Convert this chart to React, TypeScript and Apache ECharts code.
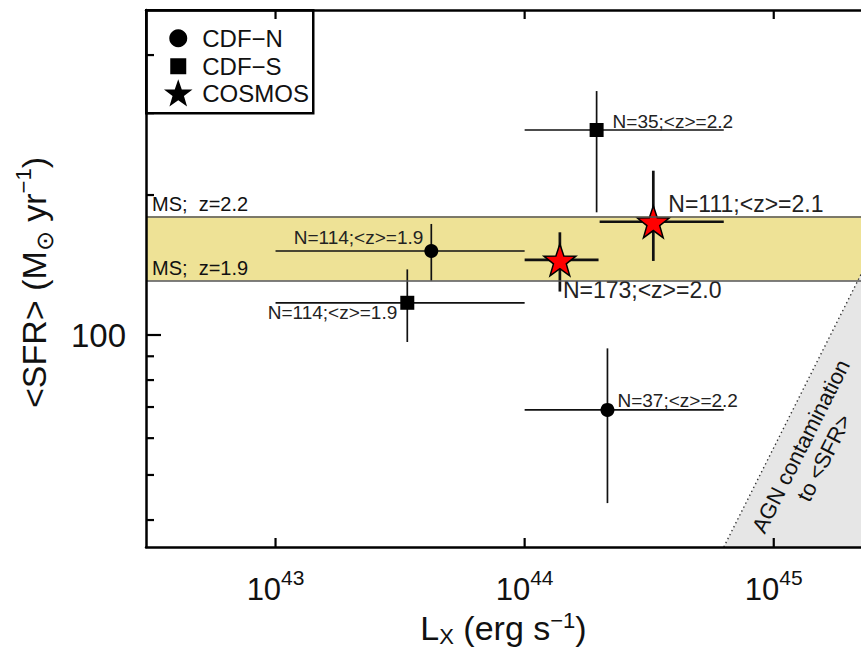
import { useEffect, useRef } from 'react';
import * as echarts from 'echarts';

// Axis ranges (log-log)
const X_MIN = 3.02e42;
const X_MAX = 2.24e45;
const Y_MIN = 35;
const Y_MAX = 500;

const X_MAJOR_TICKS = [1e43, 1e44, 1e45];
const Y_MAJOR_TICKS = [100];
const Y_MINOR_TICKS = [40, 50, 60, 70, 80, 90, 200, 300, 400];

// Main-sequence band limits
const MS_Z19 = 131;
const MS_Z22 = 180;
const MS_Z19_LABEL = 'MS;  z=1.9';
const MS_Z22_LABEL = 'MS;  z=2.2';

// CDF-N stacks
const CDFN_LX = [4.22e43, 2.15e44];
const CDFN_SFR = [151.6, 69.0];
const CDFN_LX_LO = [1e43, 1e44];
const CDFN_LX_HI = [1e44, 6.3e44];
const CDFN_SFR_LO = [130.8, 43.5];
const CDFN_SFR_HI = [173.3, 93.6];
const CDFN_LABELS = ['N=114;<z>=1.9', 'N=37;<z>=2.2'];

// CDF-S stacks
const CDFS_LX = [3.38e43, 1.945e44];
const CDFS_SFR = [117.3, 276];
const CDFS_LX_LO = [1e43, 1e44];
const CDFS_LX_HI = [1e44, 6.3e44];
const CDFS_SFR_LO = [96.6, 183.6];
const CDFS_SFR_HI = [138.4, 334.7];
const CDFS_LABELS = ['N=114;<z>=1.9', 'N=35;<z>=2.2'];

// COSMOS stacks
const COSMOS_LX = [1.385e44, 3.285e44];
const COSMOS_SFR = [145, 175.2];
const COSMOS_LX_LO = [1e44, 2.0e44];
const COSMOS_LX_HI = [1.98e44, 6.3e44];
const COSMOS_SFR_LO = [124, 144.3];
const COSMOS_SFR_HI = [166.3, 225.6];
const COSMOS_LABELS = ['N=173;<z>=2.0', 'N=111;<z>=2.1'];

// Edge of the AGN-contaminated region
const AGN_EDGE = [
  [6.3e44, 35],
  [2.24e45, 135],
];
const AGN_TEXT_AT = [1.43e45, 56];
const AGN_TEXT = 'AGN contamination\nto <SFR>';

// Label placement relative to each marker: [dx, dy, align]
const CDFN_LABEL_POS: [number, number, string][] = [[-8, -13, 'right'], [10, -9, 'left']];
const CDFS_LABEL_POS: [number, number, string][] = [[-10, 10, 'right'], [16, -8, 'left']];
const COSMOS_LABEL_POS: [number, number, string][] = [[3, 30, 'left'], [15, -18, 'left']];

const FONT = '"Liberation Sans", Arial, Helvetica, sans-serif';
const INK = '#111';
const BAND_COLOR = '#eee296';
const AGN_COLOR = '#e6e6e6';

function starPoints(cx: number, cy: number, R: number, r: number): number[][] {
  const pts: number[][] = [];
  for (let k = 0; k < 10; k++) {
    const a = -Math.PI / 2 + (k * Math.PI) / 5;
    const rad = k % 2 === 0 ? R : r;
    pts.push([cx + rad * Math.cos(a), cy + rad * Math.sin(a)]);
  }
  return pts;
}

const STAR_PATH =
  'path://' +
  starPoints(50, 50, 50, 20)
    .map((p, i) => `${i ? 'L' : 'M'}${p[0].toFixed(2)} ${p[1].toFixed(2)}`)
    .join(' ') +
  ' Z';

function rows(lx: number[], sfr: number[], xlo: number[], xhi: number[], ylo: number[], yhi: number[]) {
  return lx.map((x, i) => [x, sfr[i], xlo[i], xhi[i], ylo[i], yhi[i]]);
}

function errorBars(name: string, data: number[][], width: number) {
  return {
    type: 'custom',
    name,
    z: 3,
    silent: true,
    data,
    encode: { x: 0, y: 1 },
    renderItem: (_p: any, api: any) => {
      const x = api.value(0);
      const y = api.value(1);
      const l = api.coord([api.value(2), y]);
      const r = api.coord([api.value(3), y]);
      const b = api.coord([x, api.value(4)]);
      const t = api.coord([x, api.value(5)]);
      const style = { stroke: INK, lineWidth: width };
      return {
        type: 'group',
        children: [
          { type: 'line', shape: { x1: l[0], y1: l[1], x2: r[0], y2: r[1] }, style },
          { type: 'line', shape: { x1: b[0], y1: b[1], x2: t[0], y2: t[1] }, style },
        ],
      };
    },
  };
}

function points(lx: number[], sfr: number[], labels: string[], pos: [number, number, string][], fontSize: number) {
  return lx.map((x, i) => ({
    name: labels[i],
    value: [x, sfr[i]],
    label: {
      show: true,
      position: 'inside',
      formatter: '{b}',
      offset: [pos[i][0], pos[i][1]],
      align: pos[i][2],
      verticalAlign: 'middle',
      color: '#222',
      fontSize,
      fontFamily: FONT,
    },
  }));
}

function tickLine(x1: number, y1: number, x2: number, y2: number) {
  return { type: 'line', shape: { x1, y1, x2, y2 }, style: { stroke: '#000', lineWidth: 2.2 } };
}

function expLabel(v: number) {
  const e = Math.log10(v);
  if (Math.abs(e - Math.round(e)) > 1e-6) return '';
  return `{b|10}{s|${Math.round(e)}}`;
}

const option: any = {
  animation: false,
  backgroundColor: '#fff',
  textStyle: { fontFamily: FONT, color: INK },
  grid: { left: 146, right: 0, top: 10, bottom: 104, containLabel: false, outerBoundsMode: 'none' },
  xAxis: [
    {
      type: 'log',
      logBase: 10,
      min: X_MIN,
      max: X_MAX,
      position: 'bottom',
      z: 10,
      axisLine: { show: true, onZero: false, lineStyle: { color: '#000', width: 2.5 } },
      axisTick: { show: false },
      splitLine: { show: false },
      minorTick: { show: false },
      axisLabel: {
        margin: 20,
        formatter: expLabel,
        showMinLabel: false,
        showMaxLabel: false,
        rich: {
          b: { fontSize: 31, lineHeight: 44, fontFamily: FONT, color: INK },
          s: { fontSize: 21, lineHeight: 20, verticalAlign: 'top', fontFamily: FONT, color: INK },
        },
      },
      name: '{a|L}{sub|X}{a| (erg s}{sup|−1}{a|)}',
      nameLocation: 'middle',
      nameGap: 54,
      nameTextStyle: {
        rich: {
          a: { fontSize: 34, lineHeight: 38, fontFamily: FONT, color: INK },
          sub: { fontSize: 22, lineHeight: 16, verticalAlign: 'bottom', fontFamily: FONT, color: INK },
          sup: { fontSize: 22, lineHeight: 14, verticalAlign: 'top', fontFamily: FONT, color: INK },
        },
      },
    },
    {
      type: 'log',
      logBase: 10,
      min: X_MIN,
      max: X_MAX,
      position: 'top',
      z: 10,
      axisLine: { show: true, onZero: false, lineStyle: { color: '#000', width: 2.5 } },
      axisTick: { show: false },
      axisLabel: { show: false },
      splitLine: { show: false },
    },
  ],
  yAxis: {
    type: 'log',
    logBase: 10,
    min: Y_MIN,
    max: Y_MAX,
    z: 10,
    axisLine: { show: true, onZero: false, lineStyle: { color: '#000', width: 2.5 } },
    axisTick: { show: false },
    splitLine: { show: false },
    minorTick: { show: false },
    axisLabel: {
      margin: 20,
      fontSize: 33,
      color: INK,
      showMinLabel: false,
      showMaxLabel: false,
      formatter: (v: number) => {
        const e = Math.log10(v);
        return Math.abs(e - Math.round(e)) < 1e-6 ? String(Math.round(v)) : '';
      },
    },
    name: '{a|<SFR> (M}{sub|⊙}{a| yr}{sup|−1}{a|)}',
    nameLocation: 'middle',
    nameGap: 90,
    nameTextStyle: {
      padding: [0, 8, 0, 0],
      rich: {
        a: { fontSize: 34, lineHeight: 44, fontFamily: FONT, color: INK },
        sub: { fontSize: 24, lineHeight: 22, verticalAlign: 'bottom', fontFamily: FONT, color: INK },
        sup: { fontSize: 22, lineHeight: 28, verticalAlign: 'top', fontFamily: FONT, color: INK },
      },
    },
  },
  series: [
    // AGN-contaminated corner
    {
      type: 'custom',
      name: 'AGN',
      z: 1,
      silent: true,
      data: [AGN_EDGE[0]],
      renderItem: (_p: any, api: any) => {
        const a = api.coord(AGN_EDGE[0]);
        const b = api.coord(AGN_EDGE[1]);
        const c = api.coord([X_MAX, AGN_EDGE[1][1]]);
        const d = api.coord([X_MAX, Y_MIN]);
        const t = api.coord(AGN_TEXT_AT);
        const ang = Math.atan2(a[1] - b[1], b[0] - a[0]);
        return {
          type: 'group',
          children: [
            { type: 'polygon', shape: { points: [a, b, c, d] }, style: { fill: AGN_COLOR } },
            {
              type: 'line',
              shape: { x1: a[0], y1: a[1], x2: b[0], y2: b[1] },
              style: { stroke: '#333', lineWidth: 1.4, lineDash: [1.4, 3] },
            },
            {
              type: 'text',
              x: t[0],
              y: t[1],
              rotation: ang,
              style: {
                text: AGN_TEXT,
                fontSize: 22,
                lineHeight: 26,
                fontFamily: FONT,
                fill: INK,
                align: 'center',
                verticalAlign: 'middle',
              },
            },
          ],
        };
      },
    },
    // Main-sequence band
    {
      type: 'line',
      name: 'MS',
      z: 2,
      silent: true,
      data: [],
      markArea: {
        silent: true,
        itemStyle: { color: BAND_COLOR, opacity: 1, borderWidth: 0 },
        data: [[{ yAxis: MS_Z19 }, { yAxis: MS_Z22 }]],
      },
      markLine: {
        silent: true,
        symbol: ['none', 'none'],
        lineStyle: { color: '#555', width: 1.5, type: 'solid' },
        label: {
          show: true,
          position: 'insideStartTop',
          formatter: '{b}',
          distance: [6, 2],
          color: INK,
          fontSize: 20,
          fontFamily: FONT,
        },
        emphasis: { disabled: true },
        data: [
          { yAxis: MS_Z22, name: MS_Z22_LABEL },
          { yAxis: MS_Z19, name: MS_Z19_LABEL },
        ],
      },
    },
    errorBars('CDF−N err', rows(CDFN_LX, CDFN_SFR, CDFN_LX_LO, CDFN_LX_HI, CDFN_SFR_LO, CDFN_SFR_HI), 1.7),
    errorBars('CDF−S err', rows(CDFS_LX, CDFS_SFR, CDFS_LX_LO, CDFS_LX_HI, CDFS_SFR_LO, CDFS_SFR_HI), 1.7),
    errorBars('COSMOS err', rows(COSMOS_LX, COSMOS_SFR, COSMOS_LX_LO, COSMOS_LX_HI, COSMOS_SFR_LO, COSMOS_SFR_HI), 2.7),
    {
      type: 'scatter',
      name: 'CDF−N',
      z: 4,
      symbol: 'circle',
      symbolSize: 14,
      itemStyle: { color: '#000', opacity: 1 },
      emphasis: { disabled: true },
      data: points(CDFN_LX, CDFN_SFR, CDFN_LABELS, CDFN_LABEL_POS, 19),
    },
    {
      type: 'scatter',
      name: 'CDF−S',
      z: 4,
      symbol: 'rect',
      symbolSize: 14,
      itemStyle: { color: '#000', opacity: 1 },
      emphasis: { disabled: true },
      data: points(CDFS_LX, CDFS_SFR, CDFS_LABELS, CDFS_LABEL_POS, 19),
    },
    {
      type: 'scatter',
      name: 'COSMOS',
      z: 4,
      symbol: STAR_PATH,
      symbolSize: 32,
      itemStyle: { color: '#ff0000', borderColor: '#000', borderWidth: 1.5, opacity: 1 },
      emphasis: { disabled: true },
      data: points(COSMOS_LX, COSMOS_SFR, COSMOS_LABELS, COSMOS_LABEL_POS, 23),
    },
    // Inward-pointing ticks on the frame
    {
      type: 'custom',
      name: 'x ticks',
      z: 5,
      silent: true,
      data: X_MAJOR_TICKS.map((v) => [v, Y_MIN]),
      renderItem: (_p: any, api: any) => {
        const b = api.coord([api.value(0), Y_MIN]);
        const t = api.coord([api.value(0), Y_MAX]);
        return {
          type: 'group',
          children: [tickLine(b[0], b[1], b[0], b[1] - 9), tickLine(t[0], t[1], t[0], t[1] + 9)],
        };
      },
    },
    {
      type: 'custom',
      name: 'y major ticks',
      z: 5,
      silent: true,
      data: Y_MAJOR_TICKS.map((v) => [X_MIN, v]),
      renderItem: (_p: any, api: any) => {
        const p = api.coord([X_MIN, api.value(1)]);
        return tickLine(p[0], p[1], p[0] + 15, p[1]);
      },
    },
    {
      type: 'custom',
      name: 'y minor ticks',
      z: 5,
      silent: true,
      data: Y_MINOR_TICKS.map((v) => [X_MIN, v]),
      renderItem: (_p: any, api: any) => {
        const p = api.coord([X_MIN, api.value(1)]);
        return tickLine(p[0], p[1], p[0] + 8, p[1]);
      },
    },
  ],
  graphic: [
    {
      type: 'group',
      left: 145,
      top: 9,
      z: 100,
      children: [
        {
          type: 'rect',
          shape: { x: 0, y: 0, width: 167, height: 103 },
          style: { fill: '#fff', stroke: '#000', lineWidth: 2.5 },
        },
        { type: 'circle', shape: { cx: 32, cy: 28, r: 9 }, style: { fill: '#000' } },
        { type: 'rect', shape: { x: 24, y: 48, width: 16, height: 16 }, style: { fill: '#000' } },
        { type: 'polygon', shape: { points: starPoints(32, 84, 15, 6) }, style: { fill: '#000' } },
        {
          type: 'text',
          x: 56,
          y: 28,
          style: { text: 'CDF−N', fontSize: 24, fontFamily: FONT, fill: INK, verticalAlign: 'middle' },
        },
        {
          type: 'text',
          x: 56,
          y: 56,
          style: { text: 'CDF−S', fontSize: 24, fontFamily: FONT, fill: INK, verticalAlign: 'middle' },
        },
        {
          type: 'text',
          x: 56,
          y: 83,
          style: { text: 'COSMOS', fontSize: 24, fontFamily: FONT, fill: INK, verticalAlign: 'middle' },
        },
      ],
    },
  ],
};

export default function App() {
  const ref = useRef<HTMLDivElement>(null);
  useEffect(() => {
    if (!ref.current) return;
    const chart = echarts.init(ref.current, null, { renderer: 'svg' });
    chart.setOption(option);
    return () => chart.dispose();
  }, []);
  return (
    <div
      ref={ref}
      style={{ position: 'fixed', left: 0, top: 0, width: 861, height: 651, background: '#fff' }}
    />
  );
}
